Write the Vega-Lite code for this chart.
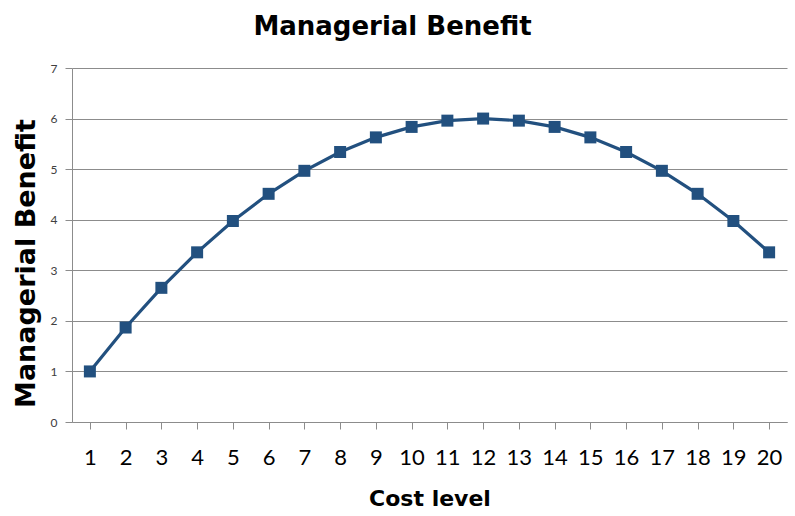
{
  "$schema": "https://vega.github.io/schema/vega-lite/v6.json",
  "width": 715,
  "height": 354,
  "autosize": "none",
  "padding": {"left": 72, "top": 68, "right": 8, "bottom": 94},
  "background": "white",
  "title": {
    "text": "Managerial Benefit",
    "font": "DejaVu Sans",
    "fontSize": 26,
    "fontWeight": "bold",
    "color": "#000000",
    "anchor": "middle",
    "dx": -37,
    "offset": 22
  },
  "data": {
    "values": [
      {"cost": 1, "benefit": 1.0},
      {"cost": 2, "benefit": 1.868},
      {"cost": 3, "benefit": 2.653},
      {"cost": 4, "benefit": 3.355},
      {"cost": 5, "benefit": 3.975},
      {"cost": 6, "benefit": 4.512},
      {"cost": 7, "benefit": 4.967},
      {"cost": 8, "benefit": 5.339},
      {"cost": 9, "benefit": 5.628},
      {"cost": 10, "benefit": 5.835},
      {"cost": 11, "benefit": 5.959},
      {"cost": 12, "benefit": 6.0},
      {"cost": 13, "benefit": 5.959},
      {"cost": 14, "benefit": 5.835},
      {"cost": 15, "benefit": 5.628},
      {"cost": 16, "benefit": 5.339},
      {"cost": 17, "benefit": 4.967},
      {"cost": 18, "benefit": 4.512},
      {"cost": 19, "benefit": 3.975},
      {"cost": 20, "benefit": 3.355}
    ]
  },
  "config": {
    "view": {"stroke": null},
    "axis": {"domainColor": "#8c8c8c", "tickColor": "#8c8c8c", "gridColor": "#8c8c8c"}
  },
  "layer": [
    {
      "mark": {"type": "line", "color": "#22507f", "strokeWidth": 3.2},
      "encoding": {
        "x": {
          "field": "cost",
          "type": "ordinal",
          "scale": {"type": "point", "padding": 0.5},
          "sort": null,
          "axis": {
            "title": "Cost level",
            "titleFont": "DejaVu Sans",
            "titleFontSize": 22,
            "titleFontWeight": "bold",
            "titleColor": "#000000",
            "titlePadding": 20,
            "labelAngle": 0,
            "labelFont": "Lato",
            "labelFontSize": 22,
            "labelColor": "#000000",
            "labelPadding": 18,
            "tickSize": 7,
            "grid": false,
            "domain": true
          }
        },
        "y": {
          "field": "benefit",
          "type": "quantitative",
          "scale": {"domain": [0, 7], "nice": false},
          "axis": {
            "title": "Managerial Benefit",
            "titleFont": "DejaVu Sans",
            "titleFontSize": 27,
            "titleFontWeight": "bold",
            "titleColor": "#000000",
            "titlePadding": 10,
            "titleY": 195,
            "values": [0, 1, 2, 3, 4, 5, 6, 7],
            "labelFont": "Lato",
            "labelFontSize": 12,
            "labelColor": "#404040",
            "labelPadding": 8,
            "tickSize": 7,
            "grid": true,
            "domain": true
          }
        }
      }
    },
    {
      "mark": {"type": "point", "shape": "square", "filled": true, "color": "#22507f", "size": 144, "opacity": 1},
      "encoding": {
        "x": {"field": "cost", "type": "ordinal", "sort": null},
        "y": {"field": "benefit", "type": "quantitative"}
      }
    }
  ]
}
